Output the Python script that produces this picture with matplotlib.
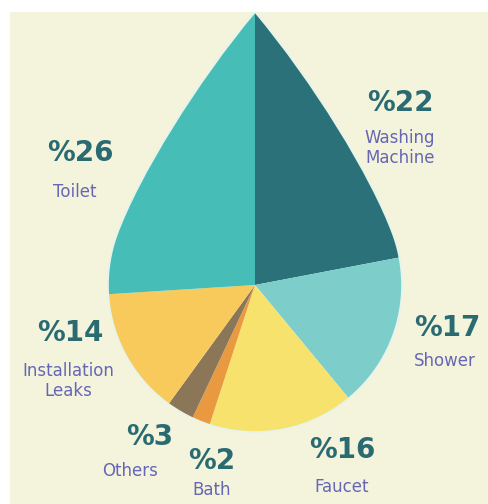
import numpy as np
import matplotlib.pyplot as plt
from matplotlib.patches import Rectangle, PathPatch
from matplotlib.path import Path

# Household water use shares, clockwise from the top
categories = ['Washing\nMachine', 'Shower', 'Faucet', 'Bath', 'Others',
              'Installation\nLeaks', 'Toilet']
shares = [22, 17, 16, 2, 3, 14, 26]
colors = ['#2b7179', '#7dcdcb', '#f6e26c', '#e99a41', '#8b7658',
          '#f8c95b', '#46bdb7']

# label anchor points (pixel coords, y from the top)
pct_pos = [(400, 103), (447, 328), (342, 450), (212, 461), (150, 437),
           (70, 333), (80, 153)]
name_pos = [(400, 148), (445, 361), (342, 487), (212, 490), (130, 471),
            (68, 381), (75, 192)]

W, H = 488, 504
cream = '#f4f3dc'
pct_color = '#2a6b72'
name_color = '#6567b5'

fig = plt.figure(figsize=(W / 100, H / 100), dpi=100, facecolor='white')
ax = fig.add_axes([0, 0, 1, 1])

# drop outline: circle at the bottom, slightly convex sides up to the tip
cx, cy, r = 255, H - 285, 147
tip = np.array([255.0, H - 12.0])
a_join = np.radians(20)
p3 = np.array([cx + r * np.cos(a_join), cy + r * np.sin(a_join)])
p1 = tip + 90 * np.array([np.sin(np.radians(40)), -np.cos(np.radians(40))])
p2 = p3 + 62 * np.array([-np.sin(a_join), np.cos(a_join)])

def mirror(p):
    return np.array([2 * cx - p[0], p[1]])

ang = np.radians(np.linspace(20, -200, 160))
arc = list(zip(cx + r * np.cos(ang), cy + r * np.sin(ang)))
drop_xy = ([tuple(tip), tuple(p1), tuple(p2), tuple(p3)] + arc[1:]
           + [tuple(mirror(p2)), tuple(mirror(p1)), tuple(tip), tuple(tip)])
drop_codes = ([Path.MOVETO] + [Path.CURVE4] * 3 + [Path.LINETO] * (len(arc) - 1)
              + [Path.CURVE4] * 3 + [Path.CLOSEPOLY])
drop = Path(drop_xy, drop_codes)

wedges, _ = ax.pie(shares, colors=colors, startangle=90, counterclock=False,
                   center=(cx, cy), radius=340,
                   wedgeprops=dict(linewidth=0))
for w in wedges:
    w.set_zorder(1)

# background mask: page rectangle with the drop cut out (opposite winding)
outer = [(0, 0), (W, 0), (W, H), (0, H), (0, 0)]
mask = Path(outer + drop_xy,
            [Path.MOVETO] + [Path.LINETO] * 3 + [Path.CLOSEPOLY] + drop_codes)
ax.add_patch(PathPatch(mask, facecolor=cream, edgecolor='none', zorder=2))

# faint light rim around the drop
ax.add_patch(PathPatch(drop, facecolor='none', edgecolor='#e6f4ea',
                       linewidth=1.2, zorder=3))

# white strips along the left and top edges
ax.add_patch(Rectangle((0, 0), 10, H, facecolor='white', edgecolor='none', zorder=3))
ax.add_patch(Rectangle((0, H - 12), W, 12, facecolor='white', edgecolor='none', zorder=3))

for name, val, (px, py), (nx, ny) in zip(categories, shares, pct_pos, name_pos):
    ax.text(px, H - py, f'%{val}', ha='center', va='center', fontsize=20,
            fontweight='bold', color=pct_color, zorder=4)
    ax.text(nx, H - ny, name, ha='center', va='center', fontsize=12,
            color=name_color, linespacing=1.2, zorder=4)

ax.set_xlim(0, W)
ax.set_ylim(0, H)
ax.set_aspect('equal')
ax.axis('off')

fig.savefig('out.png', dpi=100, facecolor='white')
